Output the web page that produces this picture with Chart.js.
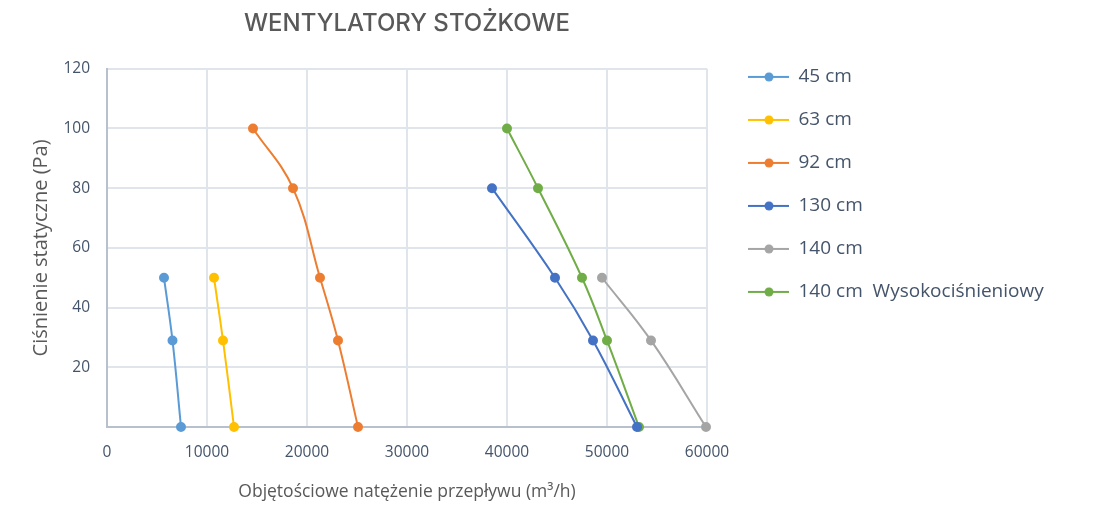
<!DOCTYPE html>
<html lang="pl">
<head>
  <meta charset="UTF-8" />
  <title>Wentylatory stożkowe</title>
  <script src="https://cdn.jsdelivr.net/npm/chart.js"></script>
  <style>
    html, body { margin: 0; padding: 0; background: #fff; }
    #wrap { width: 1113px; height: 507px; position: relative; }
  </style>
</head>
<body>
  <div id="wrap"><canvas id="fanChart"></canvas></div>

  <script>
    // Wydajność [m3/h] i ciśnienie statyczne [Pa] dla każdej średnicy
    const seriesNames = ["45 cm", "63 cm", "92 cm", "130 cm", "140 cm", "140 cm  Wysokociśnieniowy"];
    const seriesColors = ["#5b9bd5", "#ffc000", "#ed7d31", "#4472c4", "#a5a5a5", "#70ad47"];

    const flow45 = [5700, 6550, 7400];
    const pressure45 = [50, 29, 0];
    const flow63 = [10700, 11600, 12700];
    const pressure63 = [50, 29, 0];
    const flow92 = [14600, 18600, 21300, 23100, 25100];
    const pressure92 = [100, 80, 50, 29, 0];
    const flow130 = [38500, 44800, 48600, 53000];
    const pressure130 = [80, 50, 29, 0];
    const flow140 = [49500, 54400, 59900];
    const pressure140 = [50, 29, 0];
    const flow140hp = [40000, 43100, 47500, 50000, 53200];
    const pressure140hp = [100, 80, 50, 29, 0];

    const flows = [flow45, flow63, flow92, flow130, flow140, flow140hp];
    const pressures = [pressure45, pressure63, pressure92, pressure130, pressure140, pressure140hp];

    const textColor = "#44546a";
    const titleColor = "#595959";
    const gridColor = "#e0e4eb";
    const axisColor = "#b8c0ce";
    const legendWidth = 406;

    // legend marker: short line with a dot in the middle
    function legendMarker(color) {
      const c = document.createElement("canvas");
      c.width = 58; c.height = 12;
      const g = c.getContext("2d");
      g.strokeStyle = color; g.lineWidth = 2;
      g.beginPath(); g.moveTo(17, 6); g.lineTo(58, 6); g.stroke();
      g.fillStyle = color;
      g.beginPath(); g.arc(38, 6, 4.5, 0, Math.PI * 2); g.fill();
      return c;
    }

    // keep the legend column at a fixed width so the plot ends where it should
    const fixedLegend = {
      id: "fixedLegend",
      beforeLayout(chart) {
        const lg = chart.legend;
        if (lg && !lg._fixedFit) {
          const fit = lg.fit;
          lg.fit = function () { fit.call(this); this.width = legendWidth; };
          lg._fixedFit = true;
        }
      }
    };

    const datasets = seriesNames.map((name, i) => ({
      label: name,
      data: flows[i].map((x, j) => ({ x: x, y: pressures[i][j] })),
      showLine: true,
      borderColor: seriesColors[i],
      backgroundColor: seriesColors[i],
      borderWidth: 2,
      pointRadius: 4,
      pointHoverRadius: 4,
      tension: 0.4,
      clip: false,
      pointStyle: "circle",
      markerImg: legendMarker(seriesColors[i])
    }));

    new Chart(document.getElementById("fanChart"), {
      type: "scatter",
      data: { datasets: datasets },
      plugins: [fixedLegend],
      options: {
        responsive: true,
        maintainAspectRatio: false,
        animation: false,
        layout: { padding: 0 },
        plugins: {
          tooltip: { enabled: false },
          title: {
            display: true,
            text: "WENTYLATORY STOŻKOWE",
            fullSize: false,
            color: titleColor,
            font: { family: "Inter", size: 24, weight: "500" },
            padding: { top: 9, bottom: 31 }
          },
          legend: {
            position: "right",
            align: "start",
            title: { display: true, text: " ", font: { size: 17 }, padding: 11.5 },
            labels: {
              usePointStyle: true,
              pointStyleWidth: 58,
              padding: 24,
              color: textColor,
              font: { family: "Open Sans", size: 19 },
              generateLabels(chart) {
                return chart.data.datasets.map((ds, i) => ({
                  text: ds.label,
                  fontColor: textColor,
                  pointStyle: ds.markerImg,
                  hidden: false,
                  datasetIndex: i,
                  lineWidth: 0
                }));
              }
            }
          }
        },
        scales: {
          x: {
            type: "linear",
            min: 0,
            max: 60000,
            ticks: {
              stepSize: 10000,
              color: textColor,
              padding: 16,
              font: { family: "Open Sans", size: 15.5 },
              callback: v => String(v)
            },
            grid: { color: gridColor, lineWidth: 2, drawTicks: false },
            border: { color: axisColor, width: 2 },
            title: {
              display: true,
              text: "Objętościowe natężenie przepływu (m³/h)",
              color: titleColor,
              font: { family: "Open Sans", size: 17.5 },
              padding: { top: 0, bottom: 4 }
            },
            afterFit(scale) { scale.height = 80; }
          },
          y: {
            min: 0,
            max: 120,
            ticks: {
              stepSize: 20,
              color: textColor,
              padding: 17,
              font: { family: "Open Sans", size: 15.5 },
              callback: v => (v === 0 ? "" : String(v))
            },
            grid: { color: gridColor, lineWidth: 2, drawTicks: false },
            border: { color: axisColor, width: 2 },
            title: {
              display: true,
              text: "Ciśnienie statyczne (Pa)",
              color: titleColor,
              font: { family: "Open Sans", size: 20 },
              padding: { top: 29, bottom: 0 }
            },
            afterFit(scale) { scale.width = 107; }
          }
        }
      }
    });
  </script>
</body>
</html>
